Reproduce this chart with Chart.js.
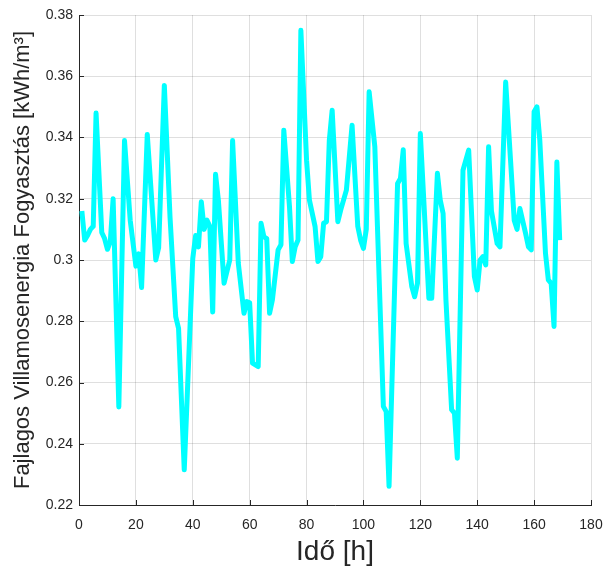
<!DOCTYPE html>
<html>
<head>
<meta charset="utf-8">
<script src="https://cdn.jsdelivr.net/npm/chart.js@4.4.1/dist/chart.umd.min.js"></script>
<style>
  html, body { margin: 0; padding: 0; background: #fff; }
</style>
</head>
<body>
<canvas id="chart" width="605" height="567"></canvas>
<script>
// hours at the curve's vertices
const hours = [
    1, 2, 3, 4, 5, 6, 8, 9, 10, 11, 12, 14, 16, 18, 20, 21, 22, 24, 27, 28,
    30, 32, 34, 35, 37, 40, 41, 42, 43, 44, 45, 46, 47, 48, 49, 51, 53, 54, 56, 58,
    59, 60, 61, 63, 64, 65, 66, 67, 68, 70, 71, 72, 74, 75, 76, 77, 78, 80, 81, 83,
    84, 85, 86, 87, 88, 89, 91, 92, 94, 96, 98, 99, 100, 101, 102, 104, 105, 107, 108, 109,
    112, 113, 114, 115, 117, 118, 119, 120, 123, 124, 126, 127, 128, 129, 131, 132, 133, 135, 137, 139,
    140, 141, 142, 143, 144, 145, 147, 148, 150, 152, 153, 154, 155, 157, 158, 159, 160, 161, 162, 164,
    165, 166, 167, 168, 169
];
// specific electricity use (kWh/m3)
const consumption = [
    0.316, 0.3065, 0.308, 0.310, 0.311, 0.348, 0.309, 0.307, 0.3035, 0.306, 0.320, 0.252, 0.339, 0.313, 0.298, 0.302, 0.291, 0.341, 0.300, 0.304,
    0.357, 0.314, 0.2815, 0.2777, 0.2315, 0.3005, 0.308, 0.3043, 0.319, 0.310, 0.313, 0.311, 0.283, 0.328, 0.3195, 0.2924, 0.300, 0.339, 0.299, 0.2826,
    0.2864, 0.286, 0.2663, 0.2652, 0.312, 0.3076, 0.307, 0.2826, 0.287, 0.3033, 0.305, 0.3424, 0.3174, 0.2995, 0.3043, 0.3065, 0.375, 0.3326, 0.3196, 0.3109,
    0.2995, 0.3011, 0.312, 0.3125, 0.3391, 0.3489, 0.3125, 0.3163, 0.3228, 0.344, 0.311, 0.3065, 0.3038, 0.310, 0.3549, 0.337, 0.3087, 0.2522, 0.2505, 0.2261,
    0.325, 0.3266, 0.336, 0.3054, 0.2913, 0.288, 0.2924, 0.3413, 0.2875, 0.2875, 0.3283, 0.3196, 0.3152, 0.287, 0.2511, 0.250, 0.2353, 0.3293, 0.3359, 0.2946,
    0.2902, 0.300, 0.3011, 0.2984, 0.337, 0.316, 0.3054, 0.3043, 0.3581, 0.3283, 0.313, 0.310, 0.3168, 0.3087, 0.3043, 0.3033, 0.3484, 0.350, 0.3391, 0.3022,
    0.2935, 0.2924, 0.2783, 0.332, 0.3065
];

const axisColor = '#262626';
const gridColor = 'rgba(38,38,38,0.15)';
const tickFont = { family: 'Liberation Sans, Arial, sans-serif', size: 14 };

// MATLAB style: small tick marks pointing into the plot
const inwardTicks = {
    id: 'inwardTicks',
    afterDatasetsDraw(chart) {
        const { ctx, chartArea: a, scales: { x, y } } = chart;
        ctx.save();
        ctx.strokeStyle = axisColor;
        ctx.lineWidth = 1;
        ctx.beginPath();
        x.ticks.forEach(t => {
            const px = Math.round(x.getPixelForValue(t.value)) + 0.5;
            ctx.moveTo(px, a.bottom);
            ctx.lineTo(px, a.bottom - 5);
        });
        y.ticks.forEach(t => {
            const py = Math.round(y.getPixelForValue(t.value)) + 0.5;
            ctx.moveTo(a.left, py);
            ctx.lineTo(a.left + 5, py);
        });
        ctx.stroke();
        ctx.restore();
    }
};

new Chart(document.getElementById('chart'), {
    type: 'line',
    data: {
        datasets: [{
            data: hours.map((h, i) => ({ x: h, y: consumption[i] })),
            borderColor: '#00ffff',
            borderWidth: 5,
            borderJoinStyle: 'round',
            pointRadius: 0,
            tension: 0,
            fill: false
        }]
    },
    options: {
        responsive: false,
        animation: false,
        devicePixelRatio: 1,
        layout: { padding: { top: 15, right: 14, left: 0, bottom: 0 } },
        plugins: { legend: { display: false }, tooltip: { enabled: false } },
        scales: {
            x: {
                type: 'linear',
                min: 0,
                max: 180,
                afterFit: s => {
                    s.height = 62;
                    s.paddingLeft = 0;
                    s.paddingRight = 0;
                },
                ticks: { stepSize: 20, color: axisColor, font: tickFont, padding: 12, maxRotation: 0 },
                grid: { color: gridColor, drawTicks: false },
                border: { color: axisColor, width: 1 },
                title: {
                    display: true,
                    text: 'Idő [h]',
                    color: axisColor,
                    font: { family: 'Liberation Sans, Arial, sans-serif', size: 28, lineHeight: 1 },
                    padding: { top: 0, bottom: 1 }
                }
            },
            y: {
                min: 0.22,
                max: 0.38,
                afterFit: s => {
                    s.width = 79;
                    s.paddingTop = 0;
                    s.paddingBottom = 0;
                },
                ticks: {
                    stepSize: 0.02,
                    color: axisColor,
                    font: tickFont,
                    padding: 6,
                    callback: v => v.toFixed(2).replace(/0$/, '')
                },
                grid: { color: gridColor, drawTicks: false },
                border: { color: axisColor, width: 1 },
                title: {
                    display: true,
                    text: 'Fajlagos Villamosenergia Fogyasztás [kWh/m³]',
                    color: axisColor,
                    font: { family: 'Liberation Sans, Arial, sans-serif', size: 22, lineHeight: 1 },
                    padding: { top: 12, bottom: 0 }
                }
            }
        }
    },
    plugins: [inwardTicks]
});
</script>
</body>
</html>
